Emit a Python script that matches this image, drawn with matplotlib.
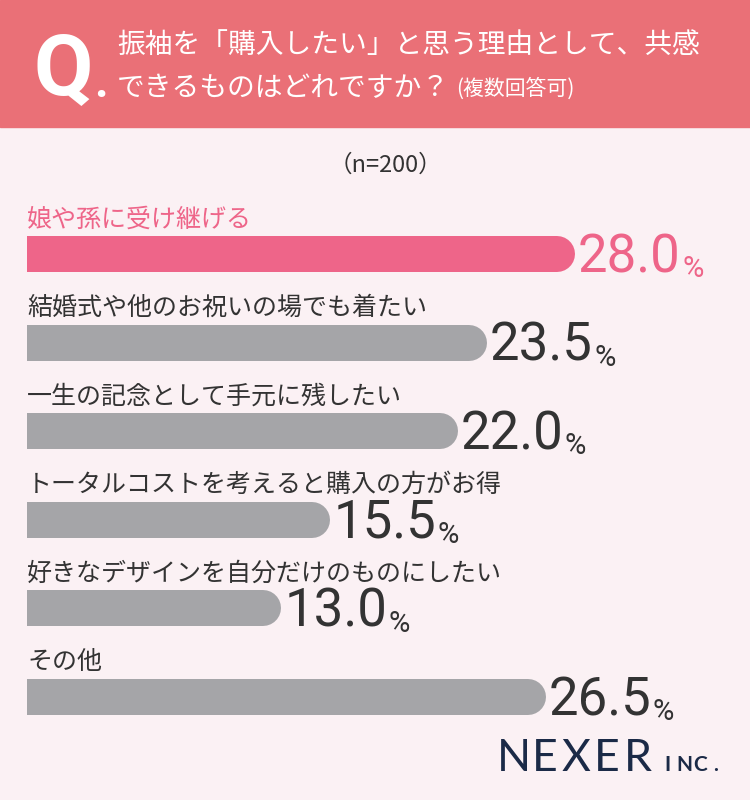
import matplotlib
matplotlib.use('Agg')
import matplotlib.pyplot as plt
from matplotlib.patches import Rectangle

# data
labels = ['娘や孫に受け継げる', '結婚式や他のお祝いの場でも着たい', '一生の記念として手元に残したい',
          'トータルコストを考えると購入の方がお得', '好きなデザインを自分だけのものにしたい', 'その他']
values = [28.0, 23.5, 22.0, 15.5, 13.0, 26.5]
title1 = '振袖を「購入したい」と思う理由として、共感'
title2 = 'できるものはどれですか？'
note = '(複数回答可)'
n_text = '（n=200）'

W, H = 750, 800
bg = '#fbf1f4'
pink = '#ee6589'
gray = '#a5a5a8'
dark = '#333333'
jp = ['Noto Sans CJK JP', 'DejaVu Sans']

fig = plt.figure(figsize=(W / 100, H / 100), dpi=100)
fig.patch.set_facecolor(bg)

def fx(px):
    return px / W

def fy(py):
    return 1 - py / H

# header band
fig.patches.append(Rectangle((0, fy(127)), 1, 127 / H, transform=fig.transFigure,
                             color='#ea7077', zorder=0))
fig.text(fx(63), fy(95), 'Q', color='white', fontsize=62, fontweight='bold',
         family='Roboto', ha='center', va='baseline')
fig.text(fx(101), fy(97), '.', color='white', fontsize=34, fontweight='bold',
         family='Roboto', ha='center', va='baseline')
fig.text(fx(117), fy(45), title1, color='white', fontsize=20, family=jp, va='center')
t2 = fig.text(fx(117), fy(88), title2, color='white', fontsize=20, family=jp, va='center')
fig.canvas.draw()
bb = t2.get_window_extent()
fig.text(bb.x1 / W + 0.008, fy(89), note, color='white', fontsize=15, family=jp, va='center')

fig.text(fx(385), fy(165), n_text, color=dark, fontsize=17, family=jp, ha='center', va='center')

# bars axes: x in percent, rows in index units
row0, pitch = 254, 88.6
x0, scale = 27, 548 / 28.0
top = row0 - pitch / 2
ax = fig.add_axes([fx(x0), fy(top + 6 * pitch), 1 - fx(x0), 6 * pitch / H])
ax.set_xlim(0, (W - x0) / scale)
ax.set_ylim(5.5, -0.5)
ax.axis('off')
ax.patch.set_alpha(0)

bar_h = 36 / pitch
r = 18 / scale  # radius of round end, data units
lw_pt = 36 * 72 / 100

for i, (lab, v) in enumerate(zip(labels, values)):
    c = pink if i == 0 else gray
    tc = pink if i == 0 else dark
    ax.barh(i, v - r, height=bar_h, left=0, color=c, linewidth=0)
    ax.plot([v - 2 * r, v - r], [i, i], color=c, lw=lw_pt, solid_capstyle='round')
    ax.text(0, i - 0.39, lab, color=tc, fontsize=18, family=jp, va='center', ha='left')
    num = ax.text(v + 0.15, i + 0.205, f'{v:.1f}', color=tc, fontsize=38,
                  family='Roboto', va='baseline', ha='left')
    fig.canvas.draw()
    nb = num.get_window_extent()
    fig.text(nb.x1 / W + 0.002, nb.y0 / H, '%', color=tc, fontsize=21,
             family='Roboto', va='bottom', ha='left')

# logo
navy = '#1b2a47'
for k, ch in enumerate('NEXER'):
    fig.text(fx(514 + 31 * k), fy(771), ch, color=navy, fontsize=32,
             family='Lato', ha='center', va='baseline')
for k, ch in enumerate('INC.'):
    fig.text(fx(668 + 16 * k), fy(771), ch, color=navy, fontsize=15, fontweight='bold',
             family='Lato', ha='center', va='baseline')

fig.savefig('out.png', dpi=100, facecolor=bg)
